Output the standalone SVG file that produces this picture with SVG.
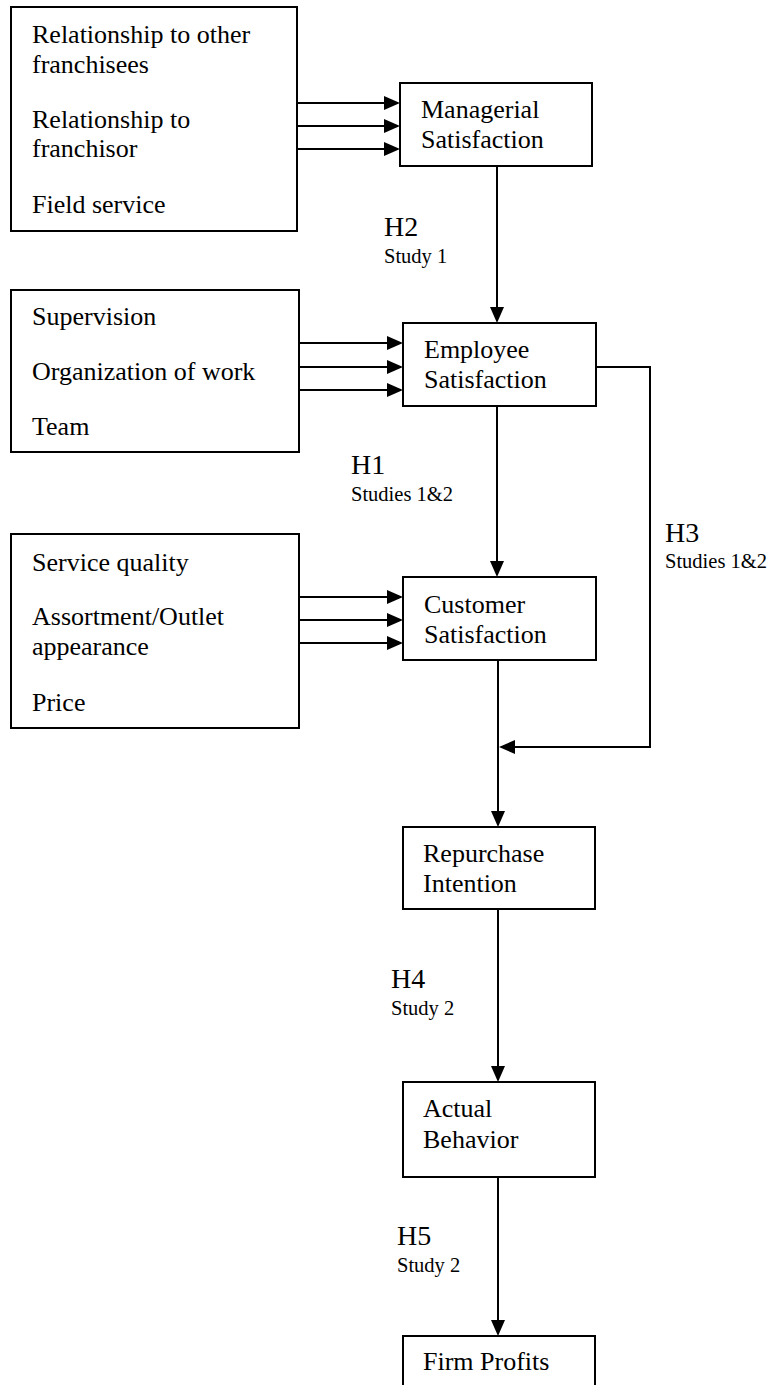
<svg xmlns="http://www.w3.org/2000/svg" width="773" height="1385" viewBox="0 0 773 1385">
<style>
.box{fill:#fff;stroke:#000;stroke-width:2}
.t{font-family:"Liberation Serif","Times New Roman",serif;font-size:26px;fill:#000}
.h{font-family:"Liberation Serif","Times New Roman",serif;font-size:28px;fill:#000}
.s{font-family:"Liberation Serif","Times New Roman",serif;font-size:20.5px;fill:#000}
.c{fill:none;stroke:#000;stroke-width:2;marker-end:url(#ah)}
</style>
<defs>
<marker id="ah" markerUnits="userSpaceOnUse" markerWidth="16" markerHeight="14" refX="14" refY="7" orient="auto">
<path d="M0,0 L16,7 L0,14 z" fill="#000"/>
</marker>
</defs>
<rect width="773" height="1385" fill="#fff"/>
<g id="connectors">
<line class="c" x1="297" y1="103" x2="398" y2="103"/>
<line class="c" x1="297" y1="126" x2="398" y2="126"/>
<line class="c" x1="297" y1="149" x2="398" y2="149"/>
<line class="c" x1="299" y1="343" x2="401" y2="343"/>
<line class="c" x1="299" y1="367" x2="401" y2="367"/>
<line class="c" x1="299" y1="390" x2="401" y2="390"/>
<line class="c" x1="299" y1="597" x2="401" y2="597"/>
<line class="c" x1="299" y1="620" x2="401" y2="620"/>
<line class="c" x1="299" y1="643" x2="401" y2="643"/>
<line class="c" x1="497" y1="166" x2="497" y2="321"/>
<line class="c" x1="497" y1="406" x2="497" y2="575"/>
<line class="c" x1="498" y1="660" x2="498" y2="825"/>
<path class="c" d="M596,367 H650 V747 H501"/>
<line class="c" x1="498" y1="909" x2="498" y2="1080"/>
<line class="c" x1="498" y1="1177" x2="498" y2="1334"/>
</g>
<g id="drivers-managerial">
<rect class="box" x="11" y="7" width="286" height="224"/>
<text class="t" x="32" y="43">Relationship to other</text>
<text class="t" x="32" y="73">franchisees</text>
<text class="t" x="32" y="128">Relationship to</text>
<text class="t" x="32" y="157">franchisor</text>
<text class="t" x="32" y="213">Field service</text>
</g>
<g id="managerial">
<rect class="box" x="400" y="83" width="192" height="83"/>
<text class="t" x="421" y="118">Managerial</text>
<text class="t" x="421" y="148">Satisfaction</text>
</g>
<g id="drivers-employee">
<rect class="box" x="11" y="290" width="288" height="162"/>
<text class="t" x="32" y="325">Supervision</text>
<text class="t" x="32" y="380">Organization of work</text>
<text class="t" x="32" y="435">Team</text>
</g>
<g id="employee">
<rect class="box" x="403" y="323" width="193" height="83"/>
<text class="t" x="424" y="358">Employee</text>
<text class="t" x="424" y="388">Satisfaction</text>
</g>
<g id="drivers-customer">
<rect class="box" x="11" y="534" width="288" height="194"/>
<text class="t" x="32" y="571">Service quality</text>
<text class="t" x="32" y="625">Assortment/Outlet</text>
<text class="t" x="32" y="655">appearance</text>
<text class="t" x="32" y="711">Price</text>
</g>
<g id="customer">
<rect class="box" x="403" y="577" width="193" height="83"/>
<text class="t" x="424" y="613">Customer</text>
<text class="t" x="424" y="643">Satisfaction</text>
</g>
<g id="repurchase">
<rect class="box" x="403" y="827" width="192" height="82"/>
<text class="t" x="423" y="862">Repurchase</text>
<text class="t" x="423" y="892">Intention</text>
</g>
<g id="behavior">
<rect class="box" x="403" y="1082" width="192" height="95"/>
<text class="t" x="423" y="1117">Actual</text>
<text class="t" x="423" y="1148">Behavior</text>
</g>
<g id="profits">
<rect class="box" x="403" y="1336" width="192" height="70"/>
<text class="t" x="423" y="1370">Firm Profits</text>
</g>
<g id="labels">
<text class="h" x="384" y="236">H2</text>
<text class="s" x="384" y="263">Study 1</text>
<text class="h" x="351" y="474">H1</text>
<text class="s" x="351" y="501">Studies 1&amp;2</text>
<text class="h" x="665" y="542">H3</text>
<text class="s" x="665" y="568">Studies 1&amp;2</text>
<text class="h" x="391" y="988">H4</text>
<text class="s" x="391" y="1015">Study 2</text>
<text class="h" x="397" y="1245">H5</text>
<text class="s" x="397" y="1272">Study 2</text>
</g>
</svg>
